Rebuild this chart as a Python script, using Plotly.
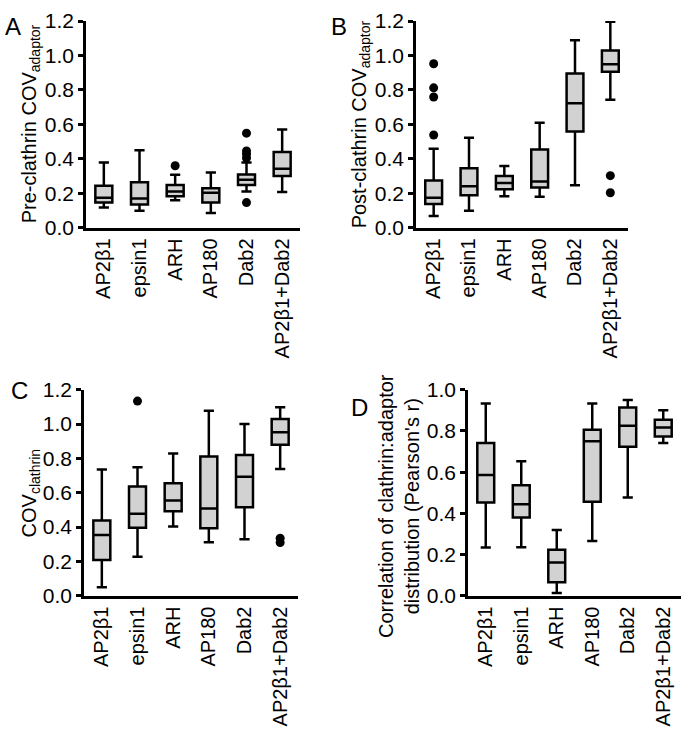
import plotly.graph_objects as go

categories = ["AP2β1", "epsin1", "ARH", "AP180", "Dab2", "AP2β1+Dab2"]

# Panel A: Pre-clathrin COV adaptor
a_low = [0.118, 0.098, 0.159, 0.086, 0.210, 0.208]
a_q1 = [0.146, 0.135, 0.182, 0.146, 0.248, 0.300]
a_med = [0.174, 0.169, 0.210, 0.203, 0.278, 0.343]
a_q3 = [0.244, 0.264, 0.248, 0.229, 0.309, 0.440]
a_high = [0.379, 0.450, 0.307, 0.320, 0.379, 0.570]
a_out_x = ["ARH", "Dab2", "Dab2", "Dab2", "Dab2", "Dab2"]
a_out_y = [0.360, 0.549, 0.446, 0.428, 0.405, 0.146]

# Panel B: Post-clathrin COV adaptor
b_low = [0.068, 0.098, 0.182, 0.180, 0.246, 0.743]
b_q1 = [0.137, 0.188, 0.223, 0.233, 0.559, 0.906]
b_med = [0.174, 0.240, 0.259, 0.268, 0.722, 0.949]
b_q3 = [0.274, 0.345, 0.300, 0.454, 0.896, 1.029]
b_high = [0.458, 0.523, 0.358, 0.609, 1.089, 1.196]
b_out_x = ["AP2β1", "AP2β1", "AP2β1", "AP2β1", "AP2β1+Dab2", "AP2β1+Dab2"]
b_out_y = [0.952, 0.812, 0.759, 0.538, 0.302, 0.203]

# Panel C: COV clathrin
c_low = [0.050, 0.228, 0.404, 0.312, 0.329, 0.739]
c_q1 = [0.209, 0.397, 0.493, 0.393, 0.515, 0.880]
c_med = [0.354, 0.478, 0.555, 0.508, 0.694, 0.953]
c_q3 = [0.438, 0.636, 0.655, 0.812, 0.820, 1.029]
c_high = [0.735, 0.749, 0.829, 1.078, 1.000, 1.098]
c_out_x = ["epsin1", "AP2β1+Dab2", "AP2β1+Dab2"]
c_out_y = [1.134, 0.335, 0.310]

# Panel D: Pearson's r
d_low = [0.234, 0.236, 0.013, 0.266, 0.477, 0.742]
d_q1 = [0.453, 0.380, 0.066, 0.456, 0.723, 0.773]
d_med = [0.586, 0.444, 0.161, 0.750, 0.825, 0.817]
d_q3 = [0.742, 0.536, 0.223, 0.806, 0.914, 0.855]
d_high = [0.933, 0.653, 0.319, 0.933, 0.950, 0.900]

FONT = "Liberation Sans, Arial, sans-serif"
FS = 20
W, H = 683, 733

def px_x(p):
    return p / W

def px_y(p):
    return 1 - p / H

panels = [
    (a_low, a_q1, a_med, a_q3, a_high, a_out_x, a_out_y, (86, 300), (9.3, 222.7), 1.2),
    (b_low, b_q1, b_med, b_q3, b_high, b_out_x, b_out_y, (416, 628), (9.3, 222.7), 1.2),
    (c_low, c_q1, c_med, c_q3, c_high, c_out_x, c_out_y, (84, 298), (390, 602.7), 1.2),
    (d_low, d_q1, d_med, d_q3, d_high, [], [], (468, 681), (390, 602.7), 1.0),
]

fig = go.Figure()
layout = {}
for i, (lo, q1, md, q3, hi, ox, oy, xd, yd, ymax) in enumerate(panels):
    n = "" if i == 0 else str(i + 1)
    xa, ya = "x" + n, "y" + n
    fig.add_trace(go.Box(
        x=categories, q1=q1, median=md, q3=q3, lowerfence=lo, upperfence=hi,
        fillcolor="#d2d2d2", line=dict(color="black", width=2.5),
        whiskerwidth=0.6, boxpoints=False, showlegend=False,
        xaxis=xa, yaxis=ya, hoverinfo="skip",
    ))
    if ox:
        fig.add_trace(go.Scatter(
            x=ox, y=oy, mode="markers", marker=dict(color="black", size=9),
            showlegend=False, xaxis=xa, yaxis=ya, hoverinfo="skip",
        ))
    layout["xaxis" + n] = dict(
        domain=[px_x(xd[0]), px_x(xd[1])], anchor=ya,
        type="category", categoryorder="array", categoryarray=categories,
        range=[-0.5, 5.5], showline=True, linecolor="black", linewidth=2.5,
        ticks="", tickangle=-90, showgrid=False, zeroline=False,
        tickfont=dict(family=FONT, size=FS, color="black"),
    )
    layout["yaxis" + n] = dict(
        domain=[px_y(yd[1]), px_y(yd[0])], anchor=xa,
        range=[0, ymax], dtick=0.2, tick0=0, tickformat=".1f",
        showline=True, linecolor="black", linewidth=2.5,
        ticks="outside", ticklen=5, tickwidth=2.5, tickcolor="black",
        showgrid=False, zeroline=False,
        tickfont=dict(family=FONT, size=FS + 1, color="black"),
    )

fig.update_layout(**layout)
fig.update_layout(
    width=W, height=H, margin=dict(l=0, r=0, t=0, b=0),
    paper_bgcolor="white", plot_bgcolor="white", boxgap=0.32,
    font=dict(family=FONT, size=FS, color="black"),
)

ann = []
def add_text(x, y, text, size=FS, angle=0):
    ann.append(dict(x=px_x(x), y=px_y(y), xref="paper", yref="paper",
                    text=text, showarrow=False, textangle=angle,
                    font=dict(family=FONT, size=size, color="black"),
                    xanchor="center", yanchor="middle"))

add_text(13, 15, "A", 24)
add_text(339, 15, "B", 24)
add_text(19, 391, "C", 24)
add_text(359, 408, "D", 24)

add_text(30, 116, "Pre-clathrin COV<sub>adaptor</sub>", FS, -90)
add_text(360, 116, "Post-clathrin COV<sub>adaptor</sub>", FS, -90)
add_text(30, 497, "COV<sub>clathrin</sub>", FS, -90)
add_text(399, 510, "Correlation of clathrin:adaptor<br>distribution (Pearson's r)", FS, -90)

fig.update_layout(annotations=ann)
fig.write_html(
    "out.html",
    config={"displayModeBar": False},
    post_script="document.body.style.margin='0';document.body.style.overflow='hidden';",
)
